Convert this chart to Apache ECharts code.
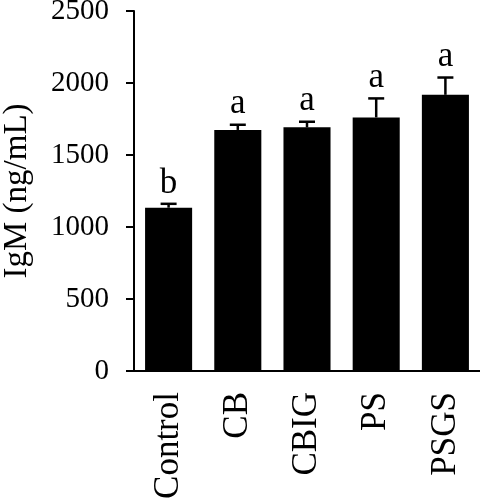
<!DOCTYPE html>
<html>
<head>
<meta charset="utf-8">
<script src="https://cdn.jsdelivr.net/npm/echarts@6/dist/echarts.min.js"></script>
<style>html,body{margin:0;padding:0;background:#fff;}#chart{width:480px;height:500px;}</style>
</head>
<body>
<div id="chart"></div>
<script>
var categories = ['Control', 'CB', 'CBIG', 'PS', 'PSGS'];
var means = [1134, 1674, 1692, 1761, 1918];
var errors = [27, 36, 39, 132, 120];
var letters = ['b', 'a', 'a', 'a', 'a'];
var yTicks = { min: 0, max: 2500, interval: 500 };

var FONT = 'Liberation Serif';
var chart = echarts.init(document.getElementById('chart'));

var errData = categories.map(function (c, i) { return [i, means[i], means[i] + errors[i], letters[i]]; });

chart.setOption({
  animation: false,
  backgroundColor: '#fff',
  grid: { left: 134, right: 0, top: 11, bottom: 129, containLabel: false, outerBoundsMode: 'none' },
  xAxis: {
    type: 'category',
    data: categories,
    axisLine: { lineStyle: { color: '#000', width: 2 } },
    axisTick: { alignWithLabel: true, length: 10, lineStyle: { color: '#000', width: 2 } },
    axisLabel: { rotate: 90, margin: 21, color: '#000', fontFamily: FONT, fontSize: 35 }
  },
  yAxis: {
    type: 'value',
    min: yTicks.min, max: yTicks.max, interval: yTicks.interval,
    name: 'IgM (ng/mL)',
    nameLocation: 'middle',
    nameGap: 100,
    nameRotate: 90,
    nameTextStyle: { color: '#000', fontFamily: FONT, fontSize: 33 },
    axisLine: { show: true, lineStyle: { color: '#000', width: 2 } },
    axisTick: { show: true, length: 8, lineStyle: { color: '#000', width: 2 } },
    axisLabel: { margin: 25, color: '#000', fontFamily: FONT, fontSize: 29, padding: [6, 0, 0, 0], formatter: function (v) { return String(v); } },
    splitLine: { show: false }
  },
  series: [
    {
      type: 'bar',
      data: means,
      barWidth: '68%',
      itemStyle: { color: '#000' }
    },
    {
      type: 'custom',
      data: errData,
      z: 3,
      renderItem: function (params, api) {
        var base = api.coord([api.value(0), api.value(1)]);
        var top = api.coord([api.value(0), api.value(2)]);
        var half = 8;
        var st = { stroke: '#000', lineWidth: 2.5 };
        return {
          type: 'group',
          children: [
            { type: 'line', shape: { x1: base[0], y1: base[1], x2: top[0], y2: top[1] }, style: st },
            { type: 'line', shape: { x1: top[0] - half, y1: top[1], x2: top[0] + half, y2: top[1] }, style: st },
            { type: 'text', style: { text: api.value(3), x: top[0], y: top[1] - 3, align: 'center', verticalAlign: 'bottom', fill: '#000', font: '35px "' + FONT + '"' } }
          ]
        };
      }
    }
  ]
});
</script>
</body>
</html>
